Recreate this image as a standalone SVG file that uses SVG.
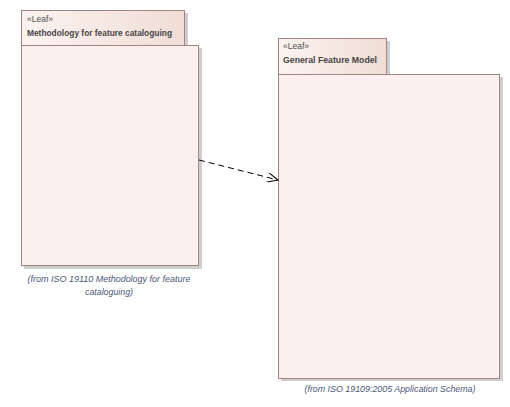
<svg xmlns="http://www.w3.org/2000/svg" width="510" height="407" viewBox="0 0 510 407">
  <defs>
    <linearGradient id="tabFill" x1="0" y1="0" x2="1" y2="0">
      <stop offset="0" stop-color="#fcf3f0"/>
      <stop offset="1" stop-color="#f0ddd6"/>
    </linearGradient>
    <marker id="openArrow" viewBox="0 0 12 10" refX="11" refY="5" markerWidth="12" markerHeight="10" markerUnits="userSpaceOnUse" orient="auto">
      <path d="M0,0 L11,5 L0,10" fill="none" stroke="#000" stroke-width="1"/>
    </marker>
  </defs>
  <style>
    .shadow { fill: #cfcfcf; }
    .tab { fill: url(#tabFill); stroke: #a08585; stroke-width: 1; }
    .body { fill: #fbf0ed; stroke: #a08585; stroke-width: 1; }
    .stereo { font-family: "Liberation Sans", Arial, sans-serif; font-size: 8.5px; fill: #505050; }
    .name { font-family: "Liberation Sans", Arial, sans-serif; font-size: 9px; font-weight: bold; fill: #454545; }
    .from { font-family: "Liberation Sans", Arial, sans-serif; font-size: 8.5px; font-style: italic; fill: #4a5878; }
    .dep { fill: none; stroke: #000; stroke-width: 1; stroke-dasharray: 6 4; }
  </style>
  <rect width="510" height="407" fill="#ffffff"/>

  <!-- package: Methodology for feature cataloguing -->
  <g id="pkg-methodology">
    <rect class="shadow" x="24" y="13" width="164" height="35"/>
    <rect class="shadow" x="24" y="48" width="178" height="221"/>
    <rect class="tab" x="21.5" y="10.5" width="163" height="35"/>
    <rect class="body" x="21.5" y="45.5" width="177" height="220"/>
    <text class="stereo" x="27" y="22">«Leaf»</text>
    <text class="name" x="27" y="36" textLength="145" lengthAdjust="spacingAndGlyphs">Methodology for feature cataloguing</text>
    <text class="from" x="109" y="282" text-anchor="middle" textLength="163" lengthAdjust="spacingAndGlyphs">(from ISO 19110 Methodology for feature</text>
    <text class="from" x="109" y="295" text-anchor="middle" textLength="48" lengthAdjust="spacingAndGlyphs">cataloguing)</text>
  </g>

  <!-- package: General Feature Model -->
  <g id="pkg-gfm">
    <rect class="shadow" x="281" y="41" width="109" height="36"/>
    <rect class="shadow" x="281" y="77" width="222" height="304"/>
    <rect class="tab" x="278.5" y="38.5" width="108" height="36"/>
    <rect class="body" x="278.5" y="74.5" width="221" height="304"/>
    <text class="stereo" x="283" y="49">«Leaf»</text>
    <text class="name" x="283" y="63" textLength="94" lengthAdjust="spacingAndGlyphs">General Feature Model</text>
    <text class="from" x="390" y="392" text-anchor="middle" textLength="171" lengthAdjust="spacingAndGlyphs">(from ISO 19109:2005 Application Schema)</text>
  </g>

  <!-- dependency -->
  <g id="connectors">
    <path class="dep" d="M199,160 L278,180" marker-end="url(#openArrow)"/>
  </g>
</svg>
